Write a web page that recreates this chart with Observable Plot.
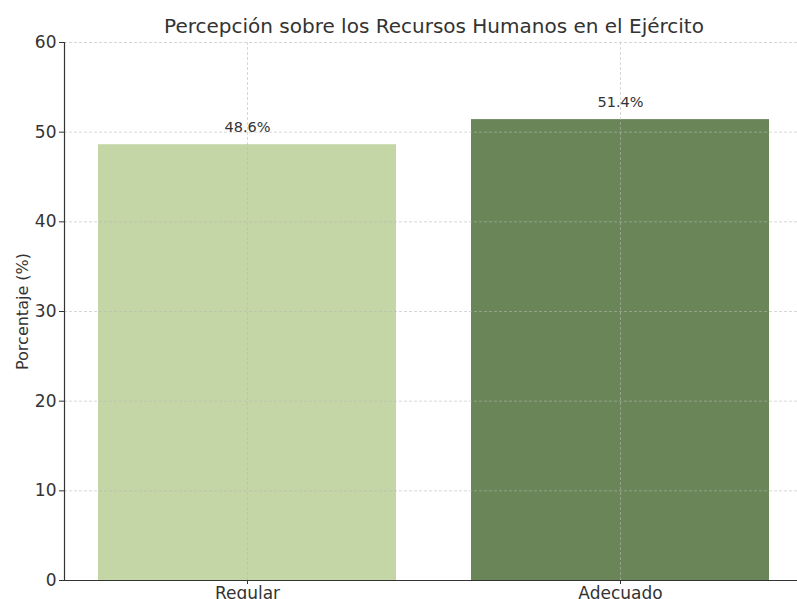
<!DOCTYPE html>
<html>
<head>
<meta charset="utf-8">
<script src="https://cdn.jsdelivr.net/npm/d3@7"></script>
<script src="https://cdn.jsdelivr.net/npm/@observablehq/plot@0.6"></script>
<style>
  html, body { margin: 0; padding: 0; background: #fff; overflow: hidden; }
  #wrap { position: relative; width: 797px; height: 599px; overflow: hidden; }
  #title {
    position: absolute; top: 16px; left: 0; width: 868px;
    text-align: center; font-family: "DejaVu Sans", sans-serif;
    font-size: 20px; line-height: 20px; color: #333; white-space: nowrap;
  }
</style>
</head>
<body>
<div id="wrap">
  <div id="title">Percepción sobre los Recursos Humanos en el Ejército</div>
</div>
<script>
// Survey result: perception of human resources in the army
const categorias = ["Regular", "Adecuado"];
const porcentajes = [48.6, 51.4];
const colores = ["#c5d6a6", "#6a8558"];
const ticksY = [0, 10, 20, 30, 40, 50, 60];

const datos = categorias.map((c, i) => ({categoria: c, valor: porcentajes[i]}));

const chart = Plot.plot({
  width: 797,
  height: 599,
  marginTop: 42,
  marginBottom: 19,
  marginLeft: 64,
  marginRight: 0,
  style: {fontFamily: "DejaVu Sans, sans-serif", color: "#333", background: "transparent"},
  x: {
    type: "band",
    domain: categorias,
    range: [64, 804],
    paddingInner: 0.2,
    paddingOuter: 0.09
  },
  y: {domain: [0, 60]},
  color: {domain: categorias, range: colores},
  marks: [
    Plot.barY(datos, {x: "categoria", y: "valor", fill: "categoria"}),
    Plot.gridY(ticksY, {stroke: "#b8b8b8", strokeOpacity: 0.7, strokeDasharray: "3,2", strokeWidth: 0.8}),
    Plot.gridX(categorias, {stroke: "#b8b8b8", strokeOpacity: 0.7, strokeDasharray: "3,2", strokeWidth: 0.8}),
    Plot.frame({anchor: "left", stroke: "#333", strokeWidth: 1.2}),
    Plot.ruleY([0], {stroke: "#333", strokeWidth: 1.2}),
    Plot.axisY(ticksY, {tickSize: 5, tickPadding: 3, fontSize: 17, label: null, stroke: "#333"}),
    Plot.axisX(categorias, {tickSize: 4, tickPadding: 2, fontSize: 17, label: null, stroke: "#333"}),
    Plot.text(["Porcentaje (%)"], {
      frameAnchor: "left", textAnchor: "middle", rotate: -90,
      dx: -42, fontSize: 16, fill: "#333"
    }),
    Plot.text(datos, {
      x: "categoria", y: "valor",
      text: d => d.valor.toFixed(1) + "%",
      dy: -17, fontSize: 14.5, fill: "#333"
    })
  ]
});

document.getElementById("wrap").prepend(chart);
</script>
</body>
</html>
